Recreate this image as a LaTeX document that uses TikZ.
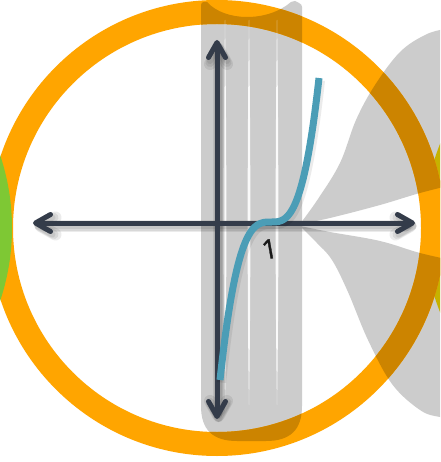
\documentclass[tikz,border=0pt]{standalone}
\usepackage{fontspec}
\newfontfamily\labelfont[FakeBold=1.3]{Open Sans}
\usetikzlibrary{arrows.meta}
\definecolor{ringorange}{RGB}{255,165,0}
\definecolor{ringdark}{RGB}{204,132,0}
\definecolor{ringgreen}{RGB}{126,200,52}
\definecolor{ringyellow}{RGB}{198,178,0}
\definecolor{paneGrey}{RGB}{204,204,204}
\definecolor{axiscol}{RGB}{52,60,74}
\definecolor{curvecol}{RGB}{75,157,182}
\newcommand\GreyRectPath{(201,5) .. controls (201,3) and (202,2) .. (204,2) -- (207,2) .. controls (225,22) and (268,22) .. (291,2) -- (295,1) -- (299,3) .. controls (301,4) and (302,5) .. (302,7) -- (302,406) .. controls (302,430) and (290,441) .. (266,441) -- (237,441) .. controls (213,441) and (201,430) .. (201,406) -- cycle}
\newcommand\UpperLobePath{(300,224) -- plot[smooth,tension=0.6] coordinates {(300,224) (318,199) (340,163) (356,120) (375,85) (400,52) (425,35) (445,29) (460,28)} -- (460,183) -- plot[smooth,tension=0.6] coordinates {(460,183) (420,193) (380,205) (330,218) (300,224)} -- cycle}
\newcommand\LowerLobePath{(300,226) -- plot[smooth,tension=0.6] coordinates {(300,226) (330,232) (380,241) (420,253) (460,262)} -- (460,418) -- plot[smooth,tension=0.6] coordinates {(460,418) (440,417) (420,410) (392,384) (368,340) (348,292) (332,260) (316,242) (300,226)} -- cycle}
\tikzset{
  axisline/.style={draw=axiscol, line width=5pt, line cap=round,
    {Straight Barb[length=15pt,width=17pt,round]}-{Straight Barb[length=15pt,width=17pt,round]}},
  axisshadow/.style={draw=black, line width=#1, line cap=round, opacity=0.08,
    {Straight Barb[length=15pt,width=17pt,round]}-{Straight Barb[length=15pt,width=17pt,round]},
    transform canvas={shift={(1.5pt,-3pt)}}},
  ringfill/.style={fill=#1, even odd rule},
}
\begin{document}
\begin{tikzpicture}[x=1pt,y=-1pt]
\fill[white] (0,0) rectangle (440,462);
\useasboundingbox (0,0) rectangle (440,462);
\clip (0,0) rectangle (440,462);
% grey panes
\fill[paneGrey] \GreyRectPath;
\fill[paneGrey] \UpperLobePath;
\fill[paneGrey] \LowerLobePath;
% yellow ring (right, only seen over grey)
\fill[ringfill=ringyellow] (652,228) circle[radius=228pt] (652,228) circle[radius=204pt];
% orange ring
\fill[ringfill=ringorange] (217,228) circle[radius=228pt] (217,228) circle[radius=204pt];
\begin{scope}
  \clip \GreyRectPath \UpperLobePath \LowerLobePath;
  \fill[ringfill=ringdark] (217,228) circle[radius=228pt] (217,228) circle[radius=204pt];
\end{scope}
% white streaks in the grey pane
\foreach \sx in {225,249,277}{
  \fill[white, opacity=0.9] (\sx,20) .. controls (\sx+1.8,150) and (\sx+1.8,300) .. (\sx,405) .. controls (\sx-1.8,300) and (\sx-1.8,150) .. (\sx,20) -- cycle;
}
% green ring (left)
\fill[ringfill=ringgreen] (-216,228) circle[radius=228pt] (-216,228) circle[radius=204pt];
% axes
\coordinate (xl) at (33,223);
\coordinate (xr) at (415,223);
\coordinate (yt) at (217,40);
\coordinate (yb) at (217,419);
\foreach \w in {12pt,9pt,6pt}{
  \draw[axisshadow=\w] (xl) -- (xr);
  \draw[axisshadow=\w] (yt) -- (yb);
}
\draw[axisline] (xl) -- (xr);
\draw[axisline] (yt) -- (yb);
% curve
\draw[black, opacity=0.08, line width=9pt, transform canvas={shift={(1.5pt,-2.5pt)}}]
  plot[domain=220:271, samples=60] (\x, {222 - 1.191*((\x-271)/10)*((\x-271)/10)*((\x-271)/10)})
  -- plot[domain=271:319, samples=60] (\x, {222 - 1.302*((\x-271)/10)*((\x-271)/10)*((\x-271)/10)});
\draw[curvecol, line width=7pt]
  plot[domain=220:271, samples=60] (\x, {222 - 1.191*((\x-271)/10)*((\x-271)/10)*((\x-271)/10)})
  -- plot[domain=271:319, samples=60] (\x, {222 - 1.302*((\x-271)/10)*((\x-271)/10)*((\x-271)/10)});
% label
\node[font=\labelfont\fontsize{27}{27}\selectfont, rotate=10, text=black!90, inner sep=0pt] (one) at (269.5,249) {1};
\end{tikzpicture}
\end{document}
